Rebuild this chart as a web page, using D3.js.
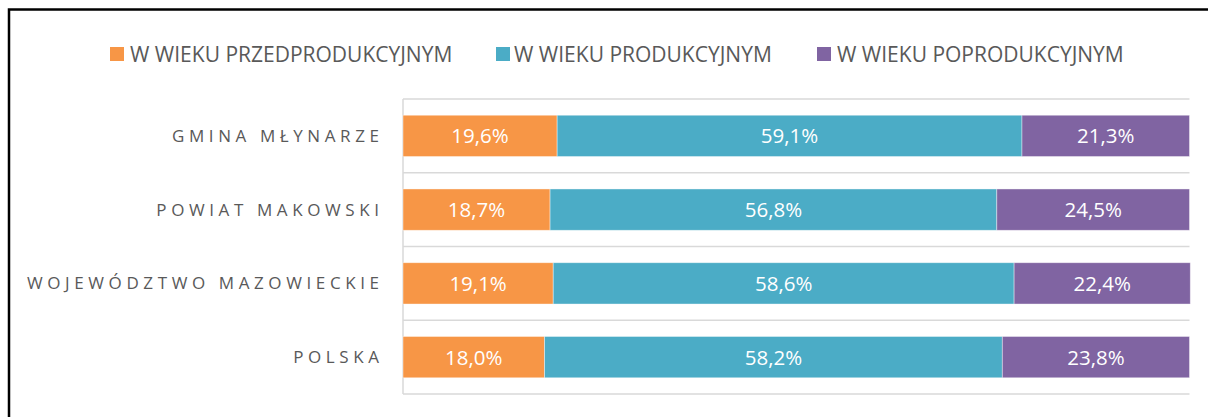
<!DOCTYPE html>
<html><head><meta charset="utf-8">
<script src="https://cdn.jsdelivr.net/npm/d3@7/dist/d3.min.js"></script>
<style>body{margin:0;background:#fff}svg{display:block}</style>
</head><body><svg id="c" width="1208" height="417"></svg>
<script>
const categories = ["GMINA MŁYNARZE","POWIAT MAKOWSKI","WOJEWÓDZTWO MAZOWIECKIE","POLSKA"];
const seriesNames = ["W WIEKU PRZEDPRODUKCYJNYM","W WIEKU PRODUKCYJNYM","W WIEKU POPRODUKCYJNYM"];
const przed = [19.6, 18.7, 19.1, 18.0];
const prod = [59.1, 56.8, 58.6, 58.2];
const popr = [21.3, 24.5, 22.4, 23.8];
const colors = ["#F79646","#4BACC6","#8064A2"];

(function(){
const svg = d3.select("#c");
svg.append("rect").attr("x",9).attr("y",9.5).attr("width",1250).attr("height",450)
  .attr("fill","none").attr("stroke","#000").attr("stroke-width",2.5);

const pL=403, pR=1189.5, pT=99, pB=394;
const x = d3.scaleLinear().domain([0,100]).range([pL,pR]);
const y = d3.scaleBand().domain(categories).range([pT,pB]).paddingInner(0.44).paddingOuter(0.22);
const yb = d3.scaleBand().domain(categories).range([pT,pB]);

const gl = [...categories.map(c=>yb(c)), pB];
svg.append("g").selectAll("line").data(gl).join("line")
  .attr("x1",pL).attr("x2",pR).attr("y1",d=>d).attr("y2",d=>d)
  .attr("stroke","#d9d9d9").attr("stroke-width",1.5);
svg.append("line").attr("x1",pL).attr("x2",pL).attr("y1",pT).attr("y2",pB)
  .attr("stroke","#d9d9d9").attr("stroke-width",1.5);

const rows = categories.map((c,i)=>({c, v:[przed[i],prod[i],popr[i]]}));
const stack = d3.stack().keys([0,1,2]).value((d,k)=>d.v[k]);
const layers = stack(rows);

const g = svg.append("g");
layers.forEach((L,k)=>{
  g.selectAll(null).data(L).join("rect")
    .attr("x",d=>x(d[0])).attr("width",d=>x(d[1])-x(d[0]))
    .attr("y",d=>y(d.data.c)).attr("height",y.bandwidth())
    .attr("fill",colors[k]).attr("stroke","rgba(255,255,255,0.5)").attr("stroke-width",0.8);
  g.selectAll(null).data(L).join("text")
    .attr("x",d=>(x(d[0])+x(d[1]))/2).attr("y",d=>y(d.data.c)+y.bandwidth()/2)
    .attr("dy","0.36em").attr("text-anchor","middle")
    .attr("fill","#fff").attr("font-family","Open Sans").attr("font-size",20.5)
    .text(d=>d3.format(".1f")(d.data.v[k]).replace(".",",")+"%");
});

const ls = 4.6;
svg.append("g").selectAll("text").data(categories).join("text")
  .attr("x",379+ls).attr("y",d=>y(d)+y.bandwidth()/2).attr("dy","0.36em")
  .attr("text-anchor","end").attr("fill","#595959")
  .attr("font-family","Open Sans").attr("font-size",17).attr("letter-spacing",ls+"px")
  .text(d=>d);

const legSq = [110, 496, 817];
const legTx = [130, 514, 837];
const lg = svg.append("g");
seriesNames.forEach((s,k)=>{
  lg.append("rect").attr("x",legSq[k]).attr("y",47).attr("width",14).attr("height",14).attr("fill",colors[k]);
  lg.append("text").attr("x",legTx[k]).attr("y",54).attr("dy","0.36em")
    .attr("fill","#595959").attr("font-family","Open Sans").attr("font-size",21).text(s);
});
})();
</script></body></html>
